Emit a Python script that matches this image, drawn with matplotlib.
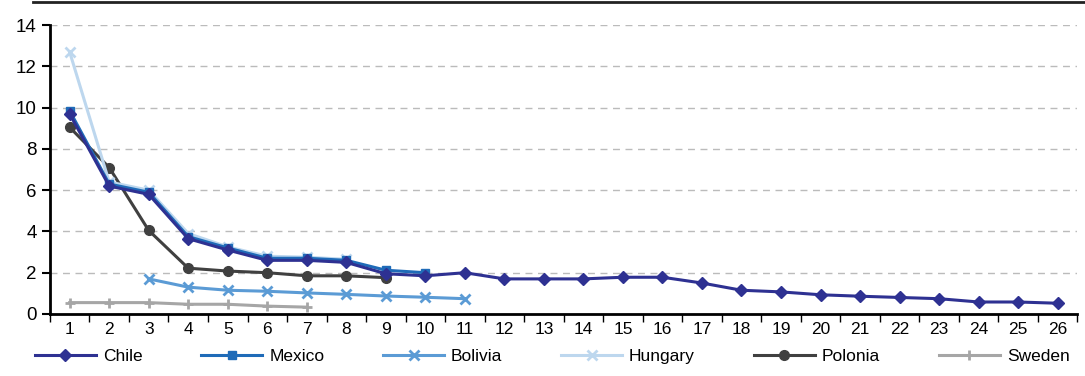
import numpy as np
import matplotlib
matplotlib.use('Agg')
import matplotlib.pyplot as plt
from matplotlib.lines import Line2D

plt.rcParams['font.family'] = ['Liberation Sans', 'DejaVu Sans']

categories = [str(i) for i in range(1, 27)]

chile = [9.7, 6.2, 5.8, 3.65, 3.1, 2.6, 2.6, 2.5, 1.95, 1.85, 2.0, 1.7, 1.7,
         1.7, 1.78, 1.78, 1.5, 1.15, 1.07, 0.93, 0.86, 0.8, 0.74, 0.58, 0.58, 0.52]
mexico = [9.85, 6.3, 5.9, 3.75, 3.2, 2.7, 2.7, 2.6, 2.12, 2.0]
bolivia = [None, None, 1.7, 1.3, 1.15, 1.1, 1.02, 0.95, 0.87, 0.81, 0.74]
hungary = [12.7, 6.4, 6.0, 3.9, 3.25, 2.8, 2.75, 2.65]
polonia = [9.05, 7.1, 4.05, 2.22, 2.08, 2.0, 1.85, 1.85, 1.76]
sweden = [0.55, 0.55, 0.55, 0.47, 0.47, 0.38, 0.33]

series = [
    ('Chile', chile, '#2E3192', 'D', 6),
    ('Mexico', mexico, '#1F6BB8', 's', 6),
    ('Bolivia', bolivia, '#5B9BD5', 'x', 7),
    ('Hungary', hungary, '#BDD7EE', 'x', 7),
    ('Polonia', polonia, '#404040', 'o', 7),
    ('Sweden', sweden, '#A6A6A6', '+', 7),
]

fig = plt.figure(figsize=(10.85, 3.76), dpi=100)
ax = fig.add_axes([0.046, 0.165, 0.947, 0.768])

# draw back to front so Chile sits on top like the original
for name, vals, col, mk, ms in reversed(series):
    x = [i + 1 for i, v in enumerate(vals) if v is not None]
    y = [v for v in vals if v is not None]
    ax.plot(x, y, color=col, marker=mk, markersize=ms, linewidth=2.2,
            markeredgewidth=2 if mk in ('x', '+') else 1, label=name)

ax.set_xlim(0.5, 26.5)
ax.set_ylim(0, 14)
ax.set_yticks(np.arange(0, 15, 2))
ax.set_xticks(range(1, 27))
ax.set_xticklabels(categories)
ax.set_xticks(np.arange(0.5, 27, 1), minor=True)
ax.tick_params(axis='x', which='major', length=0, labelsize=12.5, pad=6)
ax.tick_params(axis='x', which='minor', length=6, width=1, direction='out')
ax.tick_params(axis='y', length=6, width=1.5, labelsize=13.5)
ax.yaxis.grid(True, linestyle=(0, (5, 4)), color='#BBBBBB', linewidth=1)
ax.set_axisbelow(True)
for s in ['top', 'right']:
    ax.spines[s].set_visible(False)
ax.spines['left'].set_linewidth(2)
ax.spines['bottom'].set_linewidth(2)

handles, labels = ax.get_legend_handles_labels()
handles, labels = handles[::-1], labels[::-1]
fig.legend(handles, labels, loc='lower center', bbox_to_anchor=(0.509, -0.01),
           ncol=6, frameon=False, fontsize=12.5, handlelength=3.5,
           columnspacing=3.4, handletextpad=0.4)

fig.add_artist(Line2D([0.03, 1.0], [0.995, 0.995], color='#222222', linewidth=2))

fig.savefig('out.png', dpi=100)
